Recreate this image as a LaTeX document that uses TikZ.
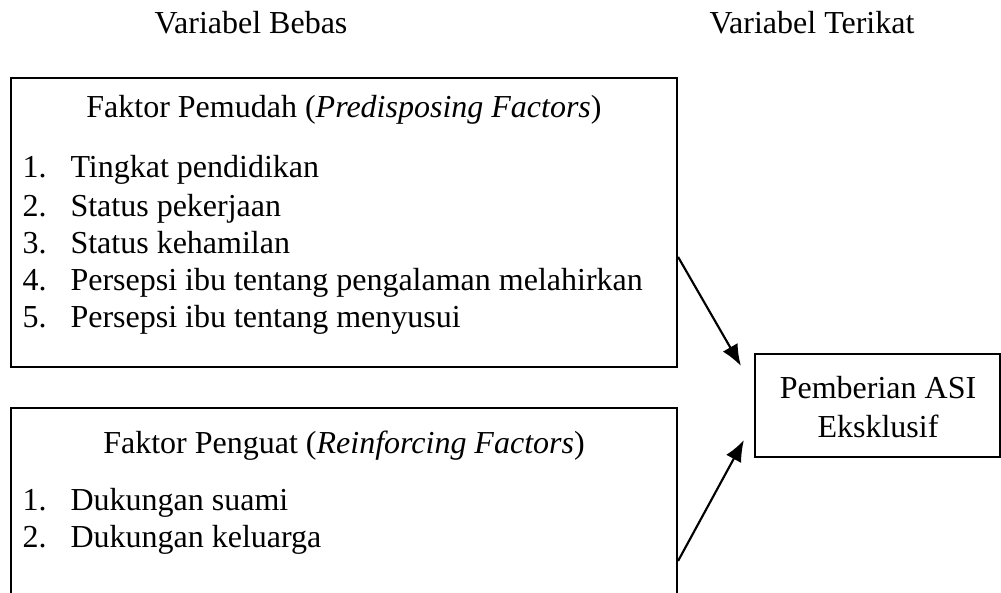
\documentclass[tikz,border=0pt]{standalone}
\usepackage{fontspec}
\setmainfont{Liberation Serif}
\usetikzlibrary{arrows.meta,calc,fit}

\begin{document}
\begin{tikzpicture}[x=0.375pt,y=-0.375pt,
	kotak/.style={draw,line width=0.8pt,inner sep=0pt},
	tulis/.style={inner sep=0pt,font=\fontsize{12}{14}\selectfont},
	judul/.style={tulis,anchor=base},
	butir/.style={tulis,anchor=base west},
	panah/.style={line width=0.8pt,-{Latex[length=8pt,width=6.4pt]}}]
	%%%%% START %%%%%
	
	\clip (0,0) rectangle (1001,592);
	
	\node[judul] (bebas) at (251,34) {Variabel Bebas};
	\node[judul] (terikat) at (812,34) {Variabel Terikat};
	
	% faktor pemudah
	\node[kotak, fit={(11,78) (677,367)}] (pemudah) {};
	\node[judul] (pemudahjudul) at (344,118) {Faktor Pemudah (\textit{Predisposing Factors})};
	\node[butir] (pa) at (22,178) {1.};  \node[butir] (pat) at (70,178) {Tingkat pendidikan};
	\node[butir] (pb) at (22,216) {2.};  \node[butir] (pbt) at (70,216) {Status pekerjaan};
	\node[butir] (pc) at (22,253) {3.};  \node[butir] (pct) at (70,253) {Status kehamilan};
	\node[butir] (pd) at (22,290) {4.};  \node[butir] (pdt) at (70,290) {Persepsi ibu tentang pengalaman melahirkan};
	\node[butir] (pe) at (22,327) {5.};  \node[butir] (pet) at (70,327) {Persepsi ibu tentang menyusui};
	
	% faktor penguat (bottom edge runs off the page)
	\node[kotak, fit={(11,408) (677,640)}] (penguat) {};
	\node[judul] (penguatjudul) at (344,453) {Faktor Penguat (\textit{Reinforcing Factors})};
	\node[butir] (ga) at (22,510) {1.};  \node[butir] (gat) at (70,510) {Dukungan suami};
	\node[butir] (gb) at (22,547) {2.};  \node[butir] (gbt) at (70,547) {Dukungan keluarga};
	
	% variabel terikat
	\node[kotak, fit={(755,354) (1000,457)}] (asi) {};
	\node[judul] (asia) at (878,398) {Pemberian ASI};
	\node[judul] (asib) at (878,437) {Eksklusif};
	
	\draw[panah] ($(pemudah.north east)+(0,180)$) -- ($(asi.north west)+(-13,13)$);
	\draw[panah] ($(penguat.north east)+(0,154)$) -- ($(asi.south west)+(-10,-18)$);
	
	%%%%% END %%%%%
\end{tikzpicture}
\end{document}
